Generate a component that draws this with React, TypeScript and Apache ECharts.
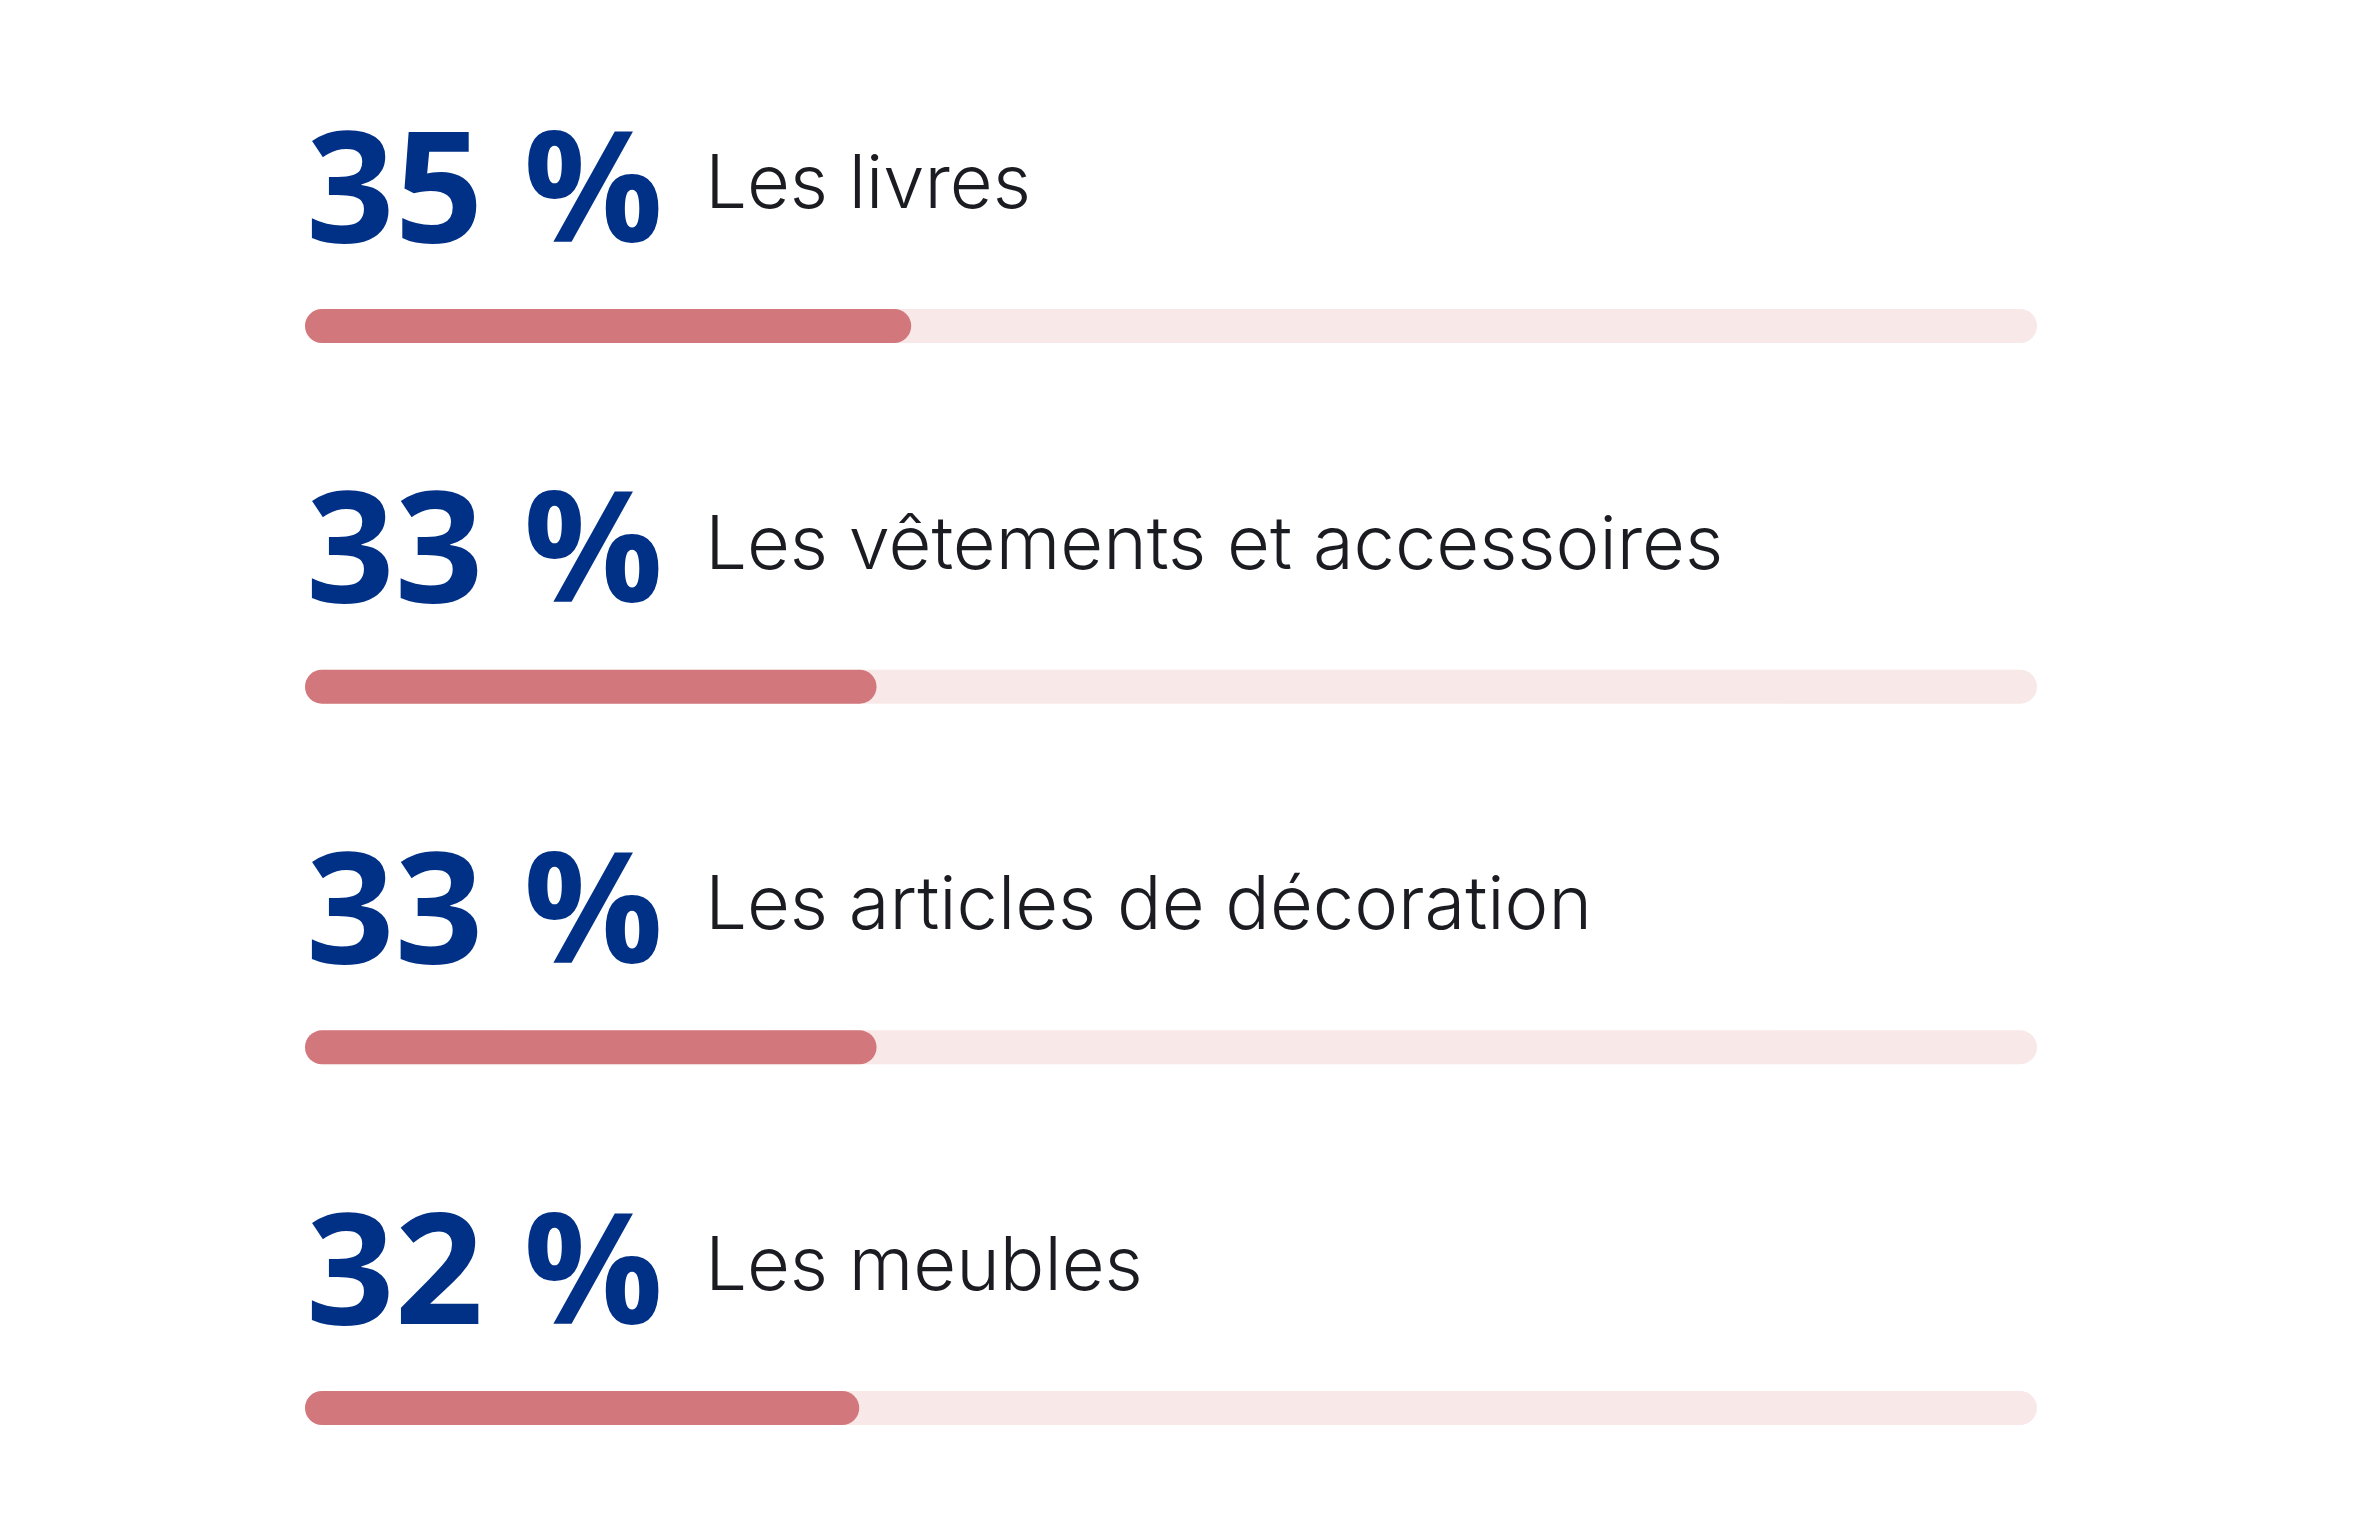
import React, { useEffect, useRef } from "react";
import * as echarts from "echarts";

const categories = [
  "Les livres",
  "Les vêtements et accessoires",
  "Les articles de décoration",
  "Les meubles",
];
const shares = [35, 33, 33, 32];
const axisMax = 100;

export default function App() {
  const ref = useRef<HTMLDivElement>(null);
  useEffect(() => {
    if (!ref.current) return;
    const chart = echarts.init(ref.current, null, { renderer: "svg" });
    chart.setOption({
      animation: false,
      backgroundColor: "#ffffff",
      grid: { left: 305, right: 339, top: 326, bottom: 126, containLabel: false },
      xAxis: {
        type: "value",
        min: 0,
        max: axisMax,
        show: false,
      },
      yAxis: {
        type: "category",
        data: categories,
        inverse: true,
        boundaryGap: false,
        show: false,
      },
      series: [
        {
          type: "bar",
          data: shares,
          barWidth: 34,
          showBackground: true,
          backgroundStyle: { color: "#F8E8E8", borderRadius: 17 },
          itemStyle: { color: "#D2777B", borderRadius: 17 },
          label: {
            show: true,
            position: [1, -128],
            align: "left",
            verticalAlign: "middle",
            formatter: (p: any) => `{n|${p.value} %}{l|${p.name}}`,
            rich: {
              n: {
                fontFamily: "Open Sans",
                fontWeight: 700,
                fontSize: 155,
                color: "#013087",
                lineHeight: 160,
                verticalAlign: "middle",
              },
              l: {
                fontFamily: "Inter",
                fontWeight: 300,
                fontSize: 74,
                color: "#1b1b22",
                lineHeight: 160,
                padding: [0, 0, 0, 42],
                verticalAlign: "middle",
              },
            },
          },
        },
      ],
    });
    return () => chart.dispose();
  }, []);
  return (
    <div
      ref={ref}
      style={{ position: "absolute", left: 0, top: 0, width: 2376, height: 1534 }}
    />
  );
}
